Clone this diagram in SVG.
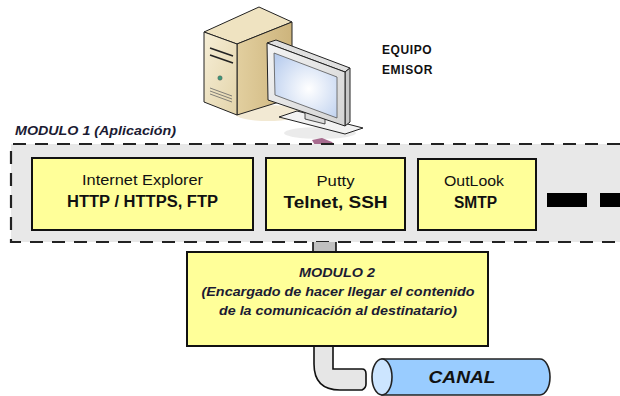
<svg xmlns="http://www.w3.org/2000/svg" width="620" height="396" viewBox="0 0 620 396">
  <defs>
    <linearGradient id="towerFront" x1="0" y1="0" x2="1" y2="1">
      <stop offset="0" stop-color="#f6eed6"/>
      <stop offset="1" stop-color="#e3d4aa"/>
    </linearGradient>
    <linearGradient id="towerSide" x1="0" y1="0" x2="1" y2="0">
      <stop offset="0" stop-color="#e2cf9f"/>
      <stop offset="1" stop-color="#cdb47c"/>
    </linearGradient>
    <radialGradient id="screenGlow" cx="0.55" cy="0.55" r="0.7">
      <stop offset="0" stop-color="#ffffff"/>
      <stop offset="1" stop-color="#b9cdee"/>
    </radialGradient>
    <linearGradient id="frameGrad" x1="0" y1="0" x2="1" y2="1">
      <stop offset="0" stop-color="#f4f4f4"/>
      <stop offset="1" stop-color="#d4d4d4"/>
    </linearGradient>
  </defs>
  <style>
    .band { fill: #e8e8e8; }
    .dash { fill: none; stroke: #222; stroke-width: 2.2; stroke-dasharray: 13 9; }
    .box { fill: #ffff99; stroke: #111; stroke-width: 2; }
    .t { font-family: "Liberation Sans", Arial, sans-serif; fill: #111; text-anchor: middle; }
    .reg { font-size: 15px; }
    .bold { font-size: 16px; font-weight: bold; }
    .mod { font-size: 12px; font-weight: bold; font-style: italic; fill: #1b1b33; }
    .edge { stroke: #111; stroke-width: 1.6; }
  </style>

  <rect width="620" height="396" fill="#ffffff"/>

  <!-- computer: tower and monitor -->
  <g id="equipo-emisor">
    <ellipse cx="268" cy="113" rx="34" ry="8" fill="#efe4c8" opacity="0.8"/>
    <polygon points="204,32 259,7 292,22 237,44" fill="#efe3c1" stroke="#222" stroke-width="1"/>
    <polygon points="237,44 292,22 292,98 237,115" fill="url(#towerSide)" stroke="#222" stroke-width="1"/>
    <polygon points="204,32 237,44 237,115 204,102" fill="url(#towerFront)" stroke="#222" stroke-width="1"/>
    <line x1="210" y1="48" x2="233" y2="56" stroke="#222" stroke-width="1.6"/>
    <line x1="210" y1="55" x2="233" y2="63" stroke="#222" stroke-width="1.6"/>
    <circle cx="220" cy="78" r="2.2" fill="#3a9a7a" stroke="#555" stroke-width="0.5"/>
    <line x1="210" y1="88" x2="232" y2="96" stroke="#666" stroke-width="0.8"/>
    <line x1="210" y1="91" x2="232" y2="99" stroke="#666" stroke-width="0.8"/>
    <line x1="210" y1="94" x2="232" y2="102" stroke="#666" stroke-width="0.8"/>
    <!-- stand -->
    <ellipse cx="320" cy="133" rx="36" ry="6" fill="#e6e6e6" opacity="0.8"/>
    <polygon points="279,117 297,111 363,128 345,134" fill="#f2f2f2" stroke="#222" stroke-width="1"/>
    <polygon points="305,112 325,118 325,124 305,119" fill="#dcdcdc" stroke="#222" stroke-width="0.8"/>
    <!-- monitor -->
    <polygon points="267,43 276,40 350,68 345,72" fill="#e0e0e0" stroke="#222" stroke-width="1"/>
    <polygon points="345,72 350,68 350,122 345,126" fill="#c8c8c8" stroke="#222" stroke-width="1"/>
    <polygon points="267,43 345,72 345,126 268,100" fill="url(#frameGrad)" stroke="#222" stroke-width="1"/>
    <polygon points="274,53 337,77 337,118 275,95" fill="url(#screenGlow)" stroke="#555" stroke-width="0.8"/>
    <!-- cable plug -->
    <path d="M312,140 L322,138 L332,142 L336,147 L326,149 L316,147 Z" fill="#8a3a6a" opacity="0.75"/>
    <text class="t" x="382" y="54" style="text-anchor:start;font-size:12px;font-weight:bold;letter-spacing:0.6px">EQUIPO</text>
    <text class="t" x="382" y="74" style="text-anchor:start;font-size:12px;font-weight:bold;letter-spacing:0.6px">EMISOR</text>
  </g>

  <!-- application layer band -->
  <g id="modulo-1">
    <text class="t mod" x="15" y="135" style="text-anchor:start" textLength="161" lengthAdjust="spacingAndGlyphs">MODULO 1 (Aplicación)</text>
    <rect class="band" x="11" y="144" width="612" height="98"/>
    <path class="dash" d="M620,144 H11 V242 H620"/>
  </g>

  <g id="internet-explorer">
    <rect class="box" x="32" y="158" width="221" height="72"/>
    <text class="t reg" x="142.5" y="185" textLength="121" lengthAdjust="spacingAndGlyphs">Internet Explorer</text>
    <text class="t bold" x="142.5" y="207" textLength="151" lengthAdjust="spacingAndGlyphs">HTTP / HTTPS, FTP</text>
  </g>

  <g id="putty">
    <rect class="box" x="266" y="158" width="139" height="72"/>
    <text class="t reg" x="335.5" y="186" textLength="38" lengthAdjust="spacingAndGlyphs">Putty</text>
    <text class="t bold" x="335.5" y="208" textLength="104" lengthAdjust="spacingAndGlyphs">Telnet, SSH</text>
  </g>

  <g id="outlook">
    <rect class="box" x="418" y="159" width="118" height="71"/>
    <text class="t reg" x="474" y="186" textLength="60" lengthAdjust="spacingAndGlyphs">OutLook</text>
    <text class="t bold" x="475.5" y="208" textLength="43" lengthAdjust="spacingAndGlyphs">SMTP</text>
  </g>

  <g id="more-apps">
    <rect x="547" y="193" width="40" height="14" fill="#000"/>
    <rect x="600" y="193" width="25" height="14" fill="#000"/>
  </g>

  <!-- connectors -->
  <g id="connectors">
    <rect x="313" y="242" width="23" height="10" fill="#c0c0c0"/>
    <line class="edge" x1="313" y1="242" x2="313" y2="252"/>
    <line class="edge" x1="336" y1="242" x2="336" y2="252"/>
    <path d="M314,346 L314,364 Q314,390 340,390 L362,390 Q366,388 366,384 L366,374 Q366,369 362,369 L333,369 L333,346 Z" fill="#e6e6e6"/>
    <path class="edge" fill="none" d="M314,346 L314,364 Q314,390 340,390 L362,390 Q366,388 366,384 L366,374 Q366,369 362,369 L333,369 L333,346"/>
  </g>

  <g id="modulo-2">
    <rect class="box" x="187" y="252" width="301" height="94"/>
    <text class="t mod" x="337" y="277" textLength="76" lengthAdjust="spacingAndGlyphs">MODULO 2</text>
    <text class="t mod" x="338" y="296" textLength="273" lengthAdjust="spacingAndGlyphs">(Encargado de hacer llegar el contenido</text>
    <text class="t mod" x="338" y="315" textLength="238" lengthAdjust="spacingAndGlyphs">de la comunicación al destinatario)</text>
  </g>

  <g id="canal">
    <path d="M382,359 L540,359 A10,18 0 0 1 540,395 L382,395 Z" fill="#99ccff" stroke="#222" stroke-width="1.6"/>
    <ellipse cx="382" cy="377" rx="10" ry="18" fill="#cce5ff" stroke="#222" stroke-width="1.6"/>
    <text class="t" x="462" y="383" style="font-size:17px;font-weight:bold;font-style:italic" textLength="67" lengthAdjust="spacingAndGlyphs">CANAL</text>
  </g>
</svg>
